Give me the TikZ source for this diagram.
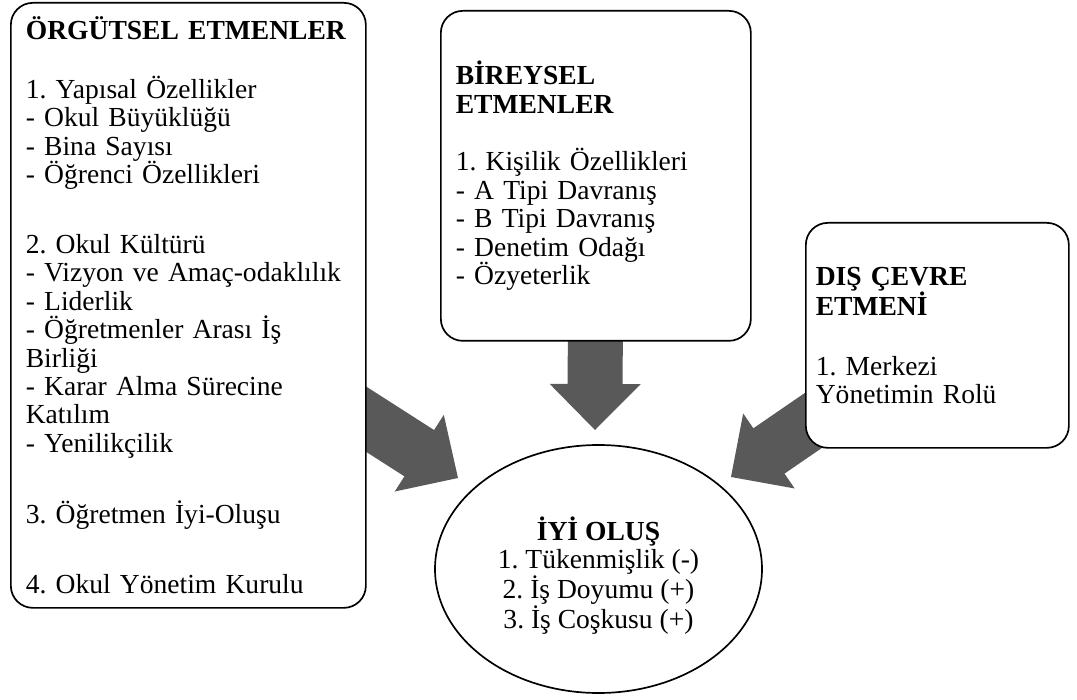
\documentclass[tikz,border=0pt]{standalone}
\usepackage{fontspec}
\setmainfont{Liberation Serif}
\usetikzlibrary{calc,backgrounds,shapes.geometric}
\definecolor{arrowgray}{RGB}{89,89,89}
\frenchspacing

% thick block arrow from node #1 to coordinate #2
\newcommand{\blockarrow}[2]{%
	\coordinate (headbase) at ($(#2)!1.15cm!(#1)$);
	\fill[arrowgray] ($(#1)!0.6875cm!90:(#2)$) -- ($(headbase)!0.6875cm!90:(#2)$)
	-- ($(headbase)!1.1375cm!90:(#2)$) -- (#2)
	-- ($(headbase)!1.1375cm!-90:(#2)$) -- ($(headbase)!0.6875cm!-90:(#2)$)
	-- ($(#1)!0.6875cm!-90:(#2)$) -- cycle;
}

\begin{document}
\begin{tikzpicture}[font=\fontsize{19.6}{20.2}\selectfont,
	box/.style={draw, line width=1.2pt, rounded corners=0.55cm, fill=white, anchor=north west, align=left, inner ysep=0.2cm}]
	
	\useasboundingbox (0,0) rectangle (26.925,-17.5);
	
	% --- Factor boxes ---
	\node[box, text width=8.125cm, inner xsep=0.375cm, minimum height=15.125cm] (org) at (0.25,-0.05)
	{\textbf{ÖRGÜTSEL ETMENLER}\\[21.6pt]
		1. Yapısal Özellikler\\
		- Okul Büyüklüğü\\
		- Bina Sayısı\\
		- Öğrenci Özellikleri\\[29.5pt]
		2. Okul Kültürü\\
		- Vizyon ve Amaç-odaklılık\\
		- Liderlik\\
		- Öğretmenler Arası İş\\
		Birliği\\
		- Karar Alma Sürecine\\
		Katılım\\
		- Yenilikçilik\\[29.5pt]
		3. Öğretmen İyi-Oluşu\\[29.5pt]
		4. Okul Yönetim Kurulu};
	
	\node[box, text width=7.0cm, inner xsep=0.375cm, minimum height=8.25cm] (ind) at (11.0,-0.25)
	{\textbf{BİREYSEL}\\
		\textbf{ETMENLER}\\[20.8pt]
		1. Kişilik Özellikleri\\
		- A Tipi Davranış\\
		- B Tipi Davranış\\
		- Denetim Odağı\\
		- Özyeterlik};
	
	\node[box, text width=6.075cm, inner xsep=0.25cm, minimum height=5.625cm] (env) at (20.125,-5.55)
	{\textbf{DIŞ ÇEVRE}\\
		\textbf{ETMENİ}\\[22pt]
		1. Merkezi\\
		Yönetimin Rolü};
	
	% --- Outcome ellipse ---
	\node[ellipse, draw, line width=1.2pt, fill=white, minimum width=8.175cm, minimum height=6.2cm, align=center] (well) at (14.9625,-14.225)
	{\rule{0pt}{26pt}\textbf{İYİ OLUŞ}\\
		1. Tükenmişlik (-)\\
		2. İş Doyumu (+)\\
		3. İş Coşkusu (+)};
	
	% --- Arrows ---
	\coordinate (tiporg) at ($(well.center)+(-3.5125,2.275)$);
	\coordinate (tipind) at ($(well.center)+(-0.0875,3.475)$);
	\coordinate (tipenv) at ($(well.center)+(3.3125,2.3)$);
	\begin{scope}[on background layer]
		\blockarrow{org}{tiporg}
		\blockarrow{ind}{tipind}
		\blockarrow{env}{tipenv}
	\end{scope}
\end{tikzpicture}
\end{document}
